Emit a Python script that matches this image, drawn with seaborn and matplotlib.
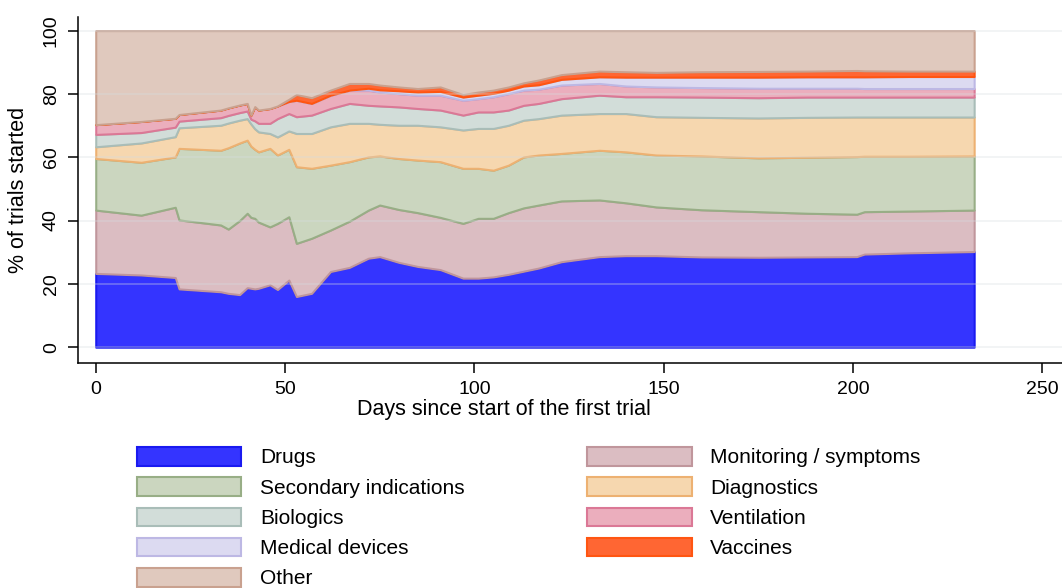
import matplotlib
matplotlib.use("Agg")
import matplotlib.pyplot as plt
import pandas as pd
import seaborn as sns

# days since start of the first trial
days = [0, 12, 21, 22, 33, 35, 38, 40, 41, 42, 43, 46, 48, 51, 53, 57, 62, 67, 72, 75,
        80, 85, 91, 97, 101, 105, 109, 113, 117, 123, 133, 140, 148, 160, 175, 188, 201, 203, 215, 232]

# share of trials started (%) per category
drugs = [23.3, 22.8, 22.0, 18.4, 17.5, 17.0, 16.6, 18.8, 18.6, 18.4, 18.6, 19.7, 18.2, 21.2, 16.0, 17.0, 23.9, 25.2, 28.1, 28.6,
         26.8, 25.5, 24.5, 21.8, 21.8, 22.2, 23.0, 24.0, 25.0, 27.0, 28.6, 28.9, 28.9, 28.5, 28.4, 28.5, 28.6, 29.4, 29.8, 30.2]
monitoring = [20.0, 18.9, 22.2, 21.8, 21.1, 20.3, 23.4, 23.5, 22.4, 22.3, 20.9, 18.3, 20.9, 20.0, 16.8, 17.4, 13.1, 14.6, 15.2, 16.3,
              16.7, 17.0, 16.5, 17.3, 18.9, 18.5, 19.5, 20.0, 19.9, 19.2, 17.9, 16.7, 15.4, 14.9, 14.4, 13.8, 13.4, 13.4, 13.2, 13.1]
secondary = [16.3, 16.7, 15.9, 22.6, 23.6, 25.7, 24.5, 23.1, 22.5, 21.8, 22.2, 24.8, 21.6, 21.3, 24.2, 22.1, 20.5, 18.8, 16.8, 15.5,
             16.1, 16.6, 17.6, 17.4, 15.8, 15.2, 15.0, 16.1, 15.8, 15.0, 15.7, 16.1, 16.4, 17.0, 17.0, 17.7, 18.2, 17.5, 17.3, 17.1]
diagnostics = [3.7, 6.1, 6.4, 6.5, 7.9, 7.8, 7.2, 6.8, 7.0, 6.5, 6.3, 4.7, 5.7, 5.8, 10.5, 11.0, 12.1, 12.1, 10.6, 10.0,
               10.5, 11.0, 11.0, 12.1, 12.6, 13.2, 12.6, 11.6, 11.5, 12.1, 11.6, 12.1, 12.1, 12.2, 12.6, 12.6, 12.5, 12.4, 12.4, 12.3]
biologics = [3.9, 3.3, 3.0, 2.1, 2.4, 2.4, 2.4, 2.4, 1.5, 2.5, 2.7, 3.2, 5.8, 5.5, 5.3, 5.8, 5.8, 6.3, 5.7, 5.8,
             5.8, 5.3, 5.3, 4.7, 5.2, 5.2, 4.8, 4.7, 4.8, 5.2, 5.8, 5.3, 6.3, 6.4, 6.4, 6.4, 6.3, 6.3, 6.3, 6.3]
ventilation = [3.1, 3.5, 2.8, 2.1, 2.4, 2.4, 2.4, 2.4, 1.3, 4.5, 4.2, 4.7, 4.0, 3.8, 5.2, 3.7, 4.2, 4.2, 4.8, 4.4,
               4.2, 4.2, 4.7, 4.7, 4.2, 4.8, 5.2, 4.8, 4.5, 4.3, 3.7, 3.4, 3.1, 3.0, 3.0, 2.8, 2.8, 2.7, 2.7, 2.7]
med_devices = [0, 0, 0, 0, 0, 0, 0, 0, 0, 0, 0, 0, 0, 0, 0, 0, 0, 0, 0.6, 0.7,
               0.9, 1.0, 1.2, 1.0, 1.1, 1.1, 1.1, 1.3, 1.4, 1.8, 2.1, 2.8, 3.1, 3.3, 3.5, 3.6, 3.6, 3.7, 3.8, 3.8]
vaccines = [0, 0, 0, 0, 0, 0, 0, 0, 0, 0, 0, 0, 0, 0.7, 1.8, 1.8, 1.6, 2.1, 1.5, 1.5,
            1.2, 1.1, 1.4, 0.8, 1.0, 1.0, 1.0, 1.0, 1.5, 1.5, 1.8, 1.7, 1.5, 1.7, 1.8, 1.8, 2.0, 1.9, 1.7, 1.7]
other = [29.7, 28.7, 27.7, 26.5, 25.1, 24.4, 23.5, 23.0, 26.7, 24.0, 25.1, 24.6, 23.8, 21.7, 20.2, 21.2, 18.8, 16.7, 16.7, 17.2,
         17.8, 18.3, 17.8, 20.2, 19.4, 18.8, 17.8, 16.5, 15.6, 13.9, 12.8, 13.0, 13.2, 13.0, 12.9, 12.8, 12.6, 12.7, 12.8, 12.8]

categories = ["Drugs", "Monitoring / symptoms", "Secondary indications", "Diagnostics",
              "Biologics", "Ventilation", "Medical devices", "Vaccines", "Other"]

df = pd.DataFrame({
    "Drugs": drugs,
    "Monitoring / symptoms": monitoring,
    "Secondary indications": secondary,
    "Diagnostics": diagnostics,
    "Biologics": biologics,
    "Ventilation": ventilation,
    "Medical devices": med_devices,
    "Vaccines": vaccines,
    "Other": other,
}, index=days)

fills = {
    "Drugs": "#3434FF",
    "Monitoring / symptoms": "#DBBDC2",
    "Secondary indications": "#CBD6BF",
    "Diagnostics": "#F6D7AF",
    "Biologics": "#D2DDD9",
    "Ventilation": "#EBAEBD",
    "Medical devices": "#DCDAF1",
    "Vaccines": "#FF6633",
    "Other": "#E0C9BE",
}
edges = {
    "Drugs": "#1A1AF0",
    "Monitoring / symptoms": "#C0969C",
    "Secondary indications": "#98AE86",
    "Diagnostics": "#EDB172",
    "Biologics": "#A9BDB8",
    "Ventilation": "#DB7896",
    "Medical devices": "#BDB8E4",
    "Vaccines": "#FF5511",
    "Other": "#C9A18F",
}

sns.set_style("white")
plt.rcParams["font.family"] = ["Liberation Sans", "DejaVu Sans"]

fig = plt.figure(figsize=(10.62, 5.88), dpi=100)
ax = fig.add_axes([0.0734, 0.3832, 0.9266, 0.5879])

polys = ax.stackplot(df.index, [df[c] for c in categories],
                     colors=[fills[c] for c in categories], labels=categories, zorder=2)
for p, c in zip(polys, categories):
    p.set_edgecolor(edges[c])
    p.set_linewidth(1.5)

ax.set_xlim(-4.7, 255.2)
ax.set_ylim(-4.9, 104.3)
ax.set_xticks([0, 50, 100, 150, 200, 250])
ax.set_yticks([0, 20, 40, 60, 80, 100])

# light horizontal grid, faintly visible over the areas
ax.yaxis.grid(True, color="#D5DDE1", linewidth=1.1, alpha=0.4, zorder=3)
ax.set_axisbelow(False)

sns.despine(ax=ax, top=True, right=True)
for s in ["left", "bottom"]:
    ax.spines[s].set_color("black")
    ax.spines[s].set_linewidth(1.1)
    ax.spines[s].set_zorder(4)

ax.tick_params(axis="both", direction="out", length=7, width=1.1, color="black",
               labelsize=14, labelcolor="black", pad=6, bottom=True, left=True)
for t in ax.get_yticklabels():
    t.set_rotation(90)
    t.set_va("center")

fig.text(504 / 1062, 1 - 410 / 588, "Days since start of the first trial",
         ha="center", va="center", fontsize=15.5, color="black")
fig.text(19 / 1062, 1 - 190 / 588, "% of trials started",
         ha="center", va="center", rotation=90, fontsize=15.5, color="black")

# Stata-style legend is filled row by row; matplotlib fills column by column
order = [0, 2, 4, 6, 8, 1, 3, 5, 7]
leg = fig.legend([polys[i] for i in order], [categories[i] for i in order],
                 ncol=2, loc="upper left", bbox_to_anchor=(137 / 1062, 1 - 447 / 588),
                 frameon=False, fontsize=15, handlelength=5.0, handleheight=1.0,
                 handletextpad=0.9, columnspacing=5.9, labelspacing=0.47,
                 borderpad=0, borderaxespad=0)
for t in leg.get_texts():
    t.set_color("black")

fig.savefig("out.png", dpi=100)
